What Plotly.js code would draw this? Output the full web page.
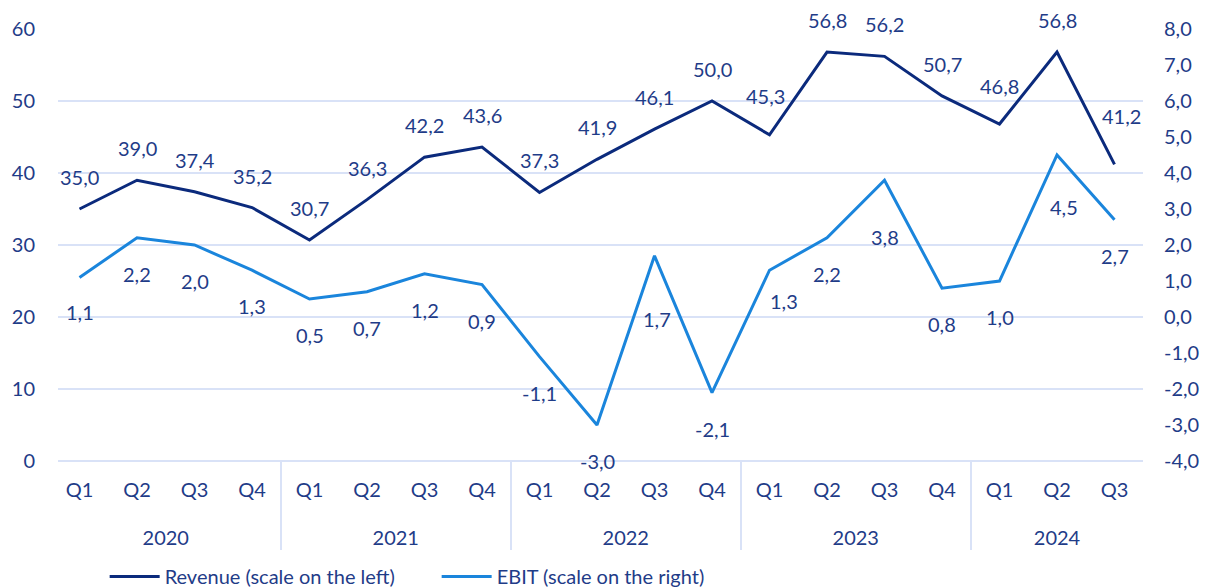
<!DOCTYPE html>
<html>
<head>
<meta charset="utf-8">
<script src="https://cdn.plot.ly/plotly-3.0.1.min.js"></script>
<style>html,body{margin:0;padding:0;background:#fff;}#chart{width:1208px;height:587px;}</style>
</head>
<body>
<div id="chart"></div>
<script>
const years = ["2020","2020","2020","2020","2021","2021","2021","2021","2022","2022","2022","2022","2023","2023","2023","2023","2024","2024","2024"];
const quarters = ["Q1","Q2","Q3","Q4","Q1","Q2","Q3","Q4","Q1","Q2","Q3","Q4","Q1","Q2","Q3","Q4","Q1","Q2","Q3"];
const revenue = [35.0,39.0,37.4,35.2,30.7,36.3,42.2,43.6,37.3,41.9,46.1,50.0,45.3,56.8,56.2,50.7,46.8,56.8,41.2];
const ebit = [1.1,2.2,2.0,1.3,0.5,0.7,1.2,0.9,-1.1,-3.0,1.7,-2.1,1.3,2.2,3.8,0.8,1.0,4.5,2.7];
const revenueName = "Revenue (scale on the left)";
const ebitName = "EBIT (scale on the right)";
const leftRange = [0, 60], leftStep = 10;
const rightRange = [-4, 8], rightStep = 1;

// label placement tweaks (pixels) – styling only
const revShift = {12:[-4,39], 16:[0,38], 18:[7,48]};
const ebitShift = {0:[0,-35], 12:[14,-31], 14:[0,-57], 10:[2,-63], 17:[7,-52]};

const textColor = "#1f3c88";
const gridColor = "#d9e2f7";
const revColor = "#0b2a7c";
const ebitColor = "#1a85dc";
const FONT = "Lato, 'Open Sans', sans-serif";

const fmt = v => v.toFixed(1).replace('.', ',');
const steps = (r, s) => { const out = []; for (let v = r[0]; v <= r[1] + 1e-9; v += s) out.push(+v.toFixed(6)); return out; };
const rightTicks = steps(rightRange, rightStep);

// extra spacer line under quarter labels to space the two category rows like the reference
const qLabels = quarters.map(q => q + "<br><span style='font-size:51px'>&nbsp;</span>");

const traces = [
  {x:[years, qLabels], y:revenue, type:"scatter", mode:"lines", name:revenueName,
   line:{color:revColor, width:3}, yaxis:"y", hoverinfo:"skip"},
  {x:[years, qLabels], y:ebit, type:"scatter", mode:"lines", name:ebitName,
   line:{color:ebitColor, width:3}, yaxis:"y2", hoverinfo:"skip"}
];

const annotations = [];
revenue.forEach((v,i)=>{
  const s = revShift[i] || [0,32];
  annotations.push({x:i, y:v, xref:"x", yref:"y", text:fmt(v), showarrow:false,
    xshift:s[0], yshift:s[1], font:{family:FONT, size:20, color:textColor}});
});
ebit.forEach((v,i)=>{
  const s = ebitShift[i] || [0,-36];
  annotations.push({x:i, y:v, xref:"x", yref:"y2", text:fmt(v), showarrow:false,
    xshift:s[0], yshift:s[1], font:{family:FONT, size:20, color:textColor}});
});

const layout = {
  width:1208, height:587,
  margin:{l:58, r:65, t:29, b:126, autoexpand:false},
  paper_bgcolor:"#ffffff", plot_bgcolor:"#ffffff",
  separators:",.",
  font:{family:FONT, size:20, color:textColor},
  showlegend:true,
  legend:{orientation:"h", x:0.043, xanchor:"left", y:-0.222, yanchor:"top",
    font:{family:FONT, size:20, color:textColor}, itemwidth:50, traceorder:"normal",
    entrywidth:267, entrywidthmode:"pixels", bgcolor:"rgba(0,0,0,0)"},
  xaxis:{type:"multicategory", showgrid:false, zeroline:false, showline:false,
    showdividers:true, dividercolor:gridColor, dividerwidth:1.5, ticklabelstandoff:15,
    tickfont:{family:FONT, size:20, color:textColor}, ticks:""},
  yaxis:{range:leftRange, dtick:leftStep, tick0:0, showgrid:true, gridcolor:gridColor, gridwidth:1.5,
    zeroline:true, zerolinecolor:gridColor, zerolinewidth:1.5, showline:false, ticks:"",
    tickformat:"d", ticklabelstandoff:22, tickfont:{family:FONT, size:20, color:textColor}},
  yaxis2:{range:rightRange, tickmode:"array", tickvals:rightTicks, ticktext:rightTicks.map(fmt),
    overlaying:"y", side:"right", showgrid:false,
    zeroline:false, showline:false, ticks:"", ticklabelstandoff:20,
    tickfont:{family:FONT, size:20, color:textColor}},
  annotations:annotations
};

Plotly.newPlot("chart", traces, layout, {staticPlot:true, displayModeBar:false});
</script>
</body>
</html>
